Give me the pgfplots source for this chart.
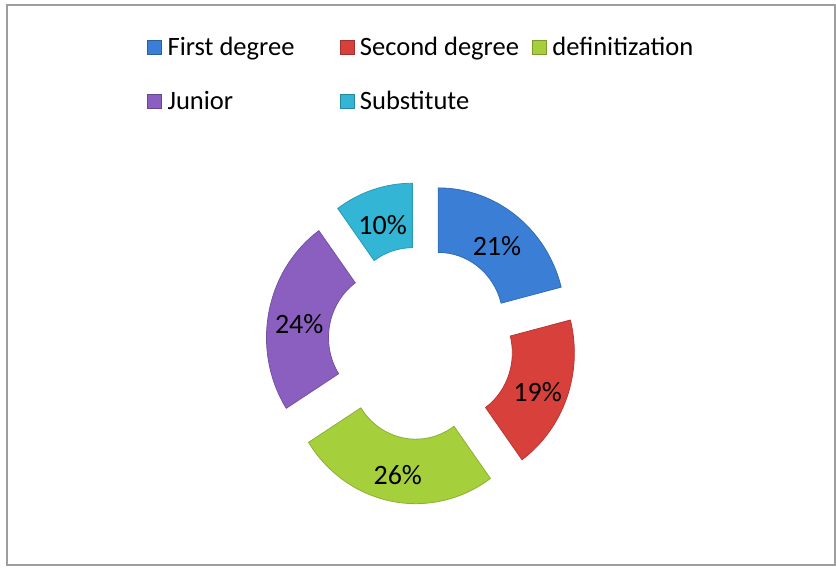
\documentclass[border=0pt]{standalone}
\usepackage{pgfplots}
\pgfplotsset{compat=1.18}
\usepackage{pgfplotstable}
\usepackage{fontspec}
\setmainfont{Carlito}
\definecolor{cFirst}{HTML}{3A7FD5}
\definecolor{cSecond}{HTML}{D8403C}
\definecolor{cDef}{HTML}{A6CF3C}
\definecolor{cJunior}{HTML}{8A5FC0}
\definecolor{cSub}{HTML}{33B5D5}
\pgfplotstableread{
value color
21 cFirst
19 cSecond
26 cDef
24 cJunior
10 cSub
}\datatable
\begin{document}
\begin{tikzpicture}
\begin{axis}[
  scale only axis, width=836pt, height=569pt,
  xmin=0, xmax=836, ymin=0, ymax=569,
  hide axis, clip=false,
  legend columns=3,
  legend style={at={(axis cs:147,532)}, anchor=north west, draw=none, fill=none,
    inner sep=0pt, font=\fontsize{26.5}{30}\selectfont, row sep=34pt,
    nodes={inner sep=0pt},
    /tikz/every odd column/.style={column sep=6pt}},
]
\path (axis cs:0,0) rectangle (axis cs:836,569);
\draw[color=black!38, line width=2pt] (axis cs:7,3.5) rectangle (axis cs:834.5,563.5);
\addlegendimage{legend image code/.code={\fill[cFirst, draw=cFirst!75!black] (0pt,-7pt) rectangle (14pt,7pt);}}
\addlegendentry{\makebox[172pt][l]{First degree}}
\addlegendimage{legend image code/.code={\fill[cSecond, draw=cSecond!75!black] (0pt,-7pt) rectangle (14pt,7pt);}}
\addlegendentry{\makebox[172pt][l]{Second degree}}
\addlegendimage{legend image code/.code={\fill[cDef, draw=cDef!75!black] (0pt,-7pt) rectangle (14pt,7pt);}}
\addlegendentry{definitization}
\addlegendimage{legend image code/.code={\fill[cJunior, draw=cJunior!75!black] (0pt,-7pt) rectangle (14pt,7pt);}}
\addlegendentry{\makebox[172pt][l]{Junior}}
\addlegendimage{legend image code/.code={\fill[cSub, draw=cSub!75!black] (0pt,-7pt) rectangle (14pt,7pt);}}
\addlegendentry{\makebox[172pt][l]{Substitute}}
\pgfplotsextra{
  \pgfplotstablegetrowsof{\datatable}\let\nrows\pgfplotsretval
  \gdef\cum{0}
  \pgfmathtruncatemacro\lastrow{\nrows-1}
  \foreach \i in {0,...,\lastrow}{
    \pgfplotstablegetelem{\i}{value}\of\datatable \let\val\pgfplotsretval
    \pgfplotstablegetelem{\i}{color}\of\datatable \let\col\pgfplotsretval
    \pgfmathsetmacro\ta{90-3.6*\cum}
    \pgfmathsetmacro\tb{90-3.6*(\cum+\val)}
    \pgfmathsetmacro\tm{(\ta+\tb)/2}
    \fill[\col, draw=\col!85!black, line width=0.8pt,
      shift={(axis cs:421,226)}, yscale=1.04, shift={(\tm:28pt)}]
      (\ta:127pt) arc[start angle=\ta, end angle=\tb, radius=127pt]
      -- (\tb:65pt) arc[start angle=\tb, end angle=\ta, radius=65pt] -- cycle;
    \path[shift={(axis cs:421,221)}, yscale=1.04, shift={(\tm:28pt)}]
      (\tm:96pt) node[font=\fontsize{28}{30}\selectfont, text=black] {\val\%};
    \pgfmathsetmacro\newcum{\cum+\val}\global\let\cum\newcum
  }
}
\end{axis}
\end{tikzpicture}
\end{document}
